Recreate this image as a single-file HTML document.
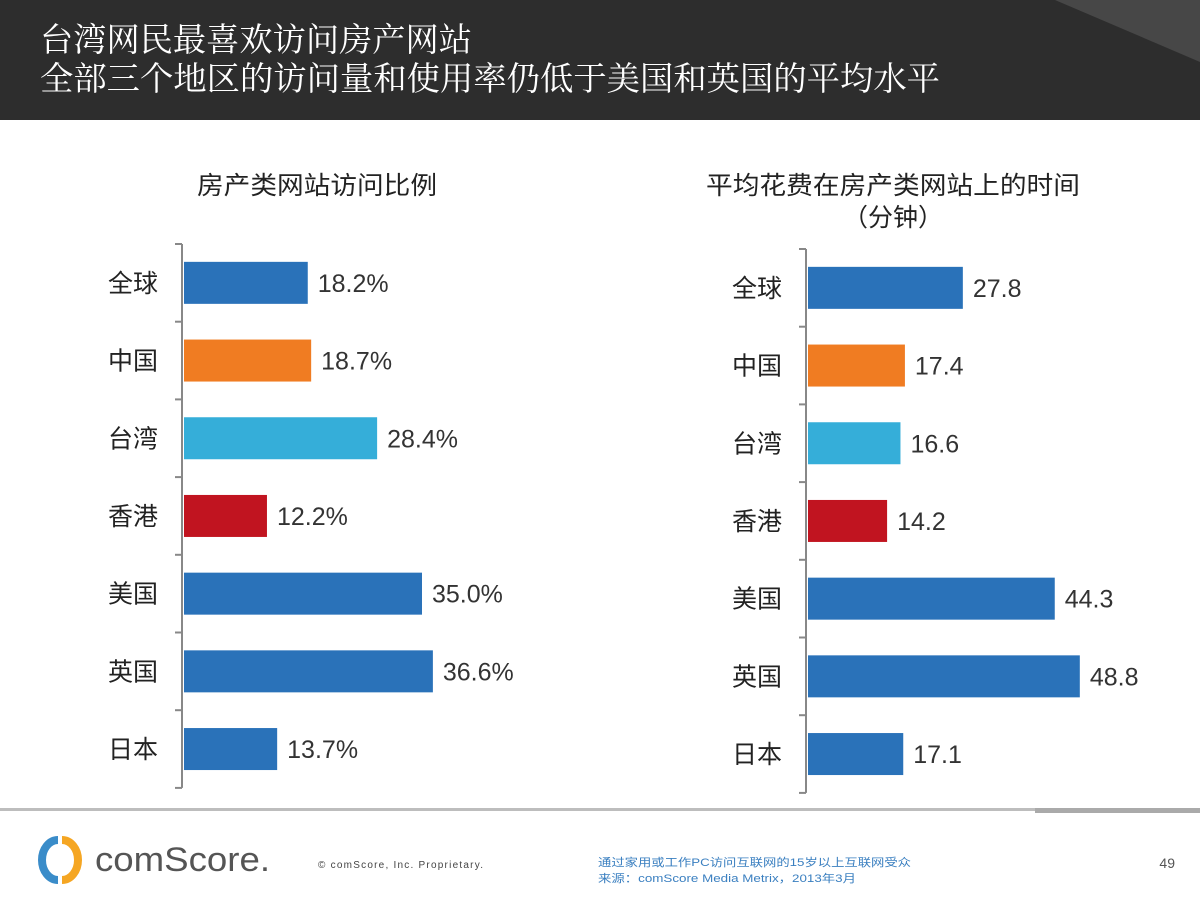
<!DOCTYPE html>
<html><head><meta charset="utf-8">
<style>
body{margin:0;width:1200px;height:900px;overflow:hidden;background:#fff;font-family:"Liberation Sans","Noto Sans CJK SC",sans-serif;}
svg text{font-family:"Liberation Sans","Noto Sans CJK SC",sans-serif;}
</style></head>
<body>
<svg width="1200" height="900" viewBox="0 0 1200 900">
  <rect x="0" y="0" width="1200" height="120" fill="#2d2d2d"/>
  <polygon points="1055,0 1200,0 1200,62" fill="#474747"/>
  <text x="40" y="51" fill="#fff" font-size="33" textLength="432" lengthAdjust="spacingAndGlyphs" style="font-family:'Liberation Serif','Noto Serif CJK SC',serif">台湾网民最喜欢访问房产网站</text>
  <text x="40" y="90" fill="#fff" font-size="33" textLength="900" lengthAdjust="spacingAndGlyphs" style="font-family:'Liberation Serif','Noto Serif CJK SC',serif">全部三个地区的访问量和使用率仍低于美国和英国的平均水平</text>

  <text x="317" y="194" text-anchor="middle" font-size="25" textLength="240" lengthAdjust="spacingAndGlyphs" fill="#222">房产类网站访问比例</text>
  <text x="893" y="194" text-anchor="middle" font-size="25" textLength="374" lengthAdjust="spacingAndGlyphs" fill="#222">平均花费在房产类网站上的时间</text>
  <text x="893" y="226" text-anchor="middle" font-size="25" fill="#222">（分钟）</text>

  <g id="left"></g>
  <g id="right"></g>

  <rect x="0" y="808" width="1200" height="3" fill="#bdbdbd"/>
  <rect x="1035" y="808" width="165" height="5" fill="#aaa"/>
  <g>
    <path d="M58 840 A16 20 0 0 0 58 880" stroke="#3a8cc9" stroke-width="8" fill="none"/>
    <path d="M62 840 A16 20 0 0 1 62 880" stroke="#f5a623" stroke-width="8" fill="none"/>
    <text x="95" y="871" font-size="34" fill="#555" textLength="175" lengthAdjust="spacingAndGlyphs">comScore.</text>
  </g>
  <text x="318" y="868" font-size="10" fill="#444" textLength="165" lengthAdjust="spacing">© comScore, Inc.    Proprietary.</text>
  <text x="598" y="866" font-size="11" fill="#3a7fc0" textLength="313" lengthAdjust="spacingAndGlyphs">通过家用或工作PC访问互联网的15岁以上互联网受众</text>
  <text x="598" y="882" font-size="11" fill="#3a7fc0" textLength="258" lengthAdjust="spacingAndGlyphs">来源：comScore Media Metrix，2013年3月</text>
  <text x="1175" y="868" text-anchor="end" font-size="14" fill="#555">49</text>
</svg>
<script>
const categories=["全球","中国","台湾","香港","美国","英国","日本"];
const colors=["#2a72b9","#f07c22","#35aed9","#c11420","#2a72b9","#2a72b9","#2a72b9"];
const visitShare=[18.2,18.7,28.4,12.2,35.0,36.6,13.7];
const visitLabels=["18.2%","18.7%","28.4%","12.2%","35.0%","36.6%","13.7%"];
const minutes=[27.8,17.4,16.6,14.2,44.3,48.8,17.1];
const minuteLabels=["27.8","17.4","16.6","14.2","44.3","48.8","17.1"];
const NS="http://www.w3.org/2000/svg";
function mk(tag,attrs,parent){const e=document.createElementNS(NS,tag);for(const k in attrs)e.setAttribute(k,attrs[k]);parent.appendChild(e);return e;}
function drawChart(g,axisX,top,band,scale,values,labels,prefix){
  const n=categories.length;
  const x=v=>axisX+2+v*scale;
  const axis=mk("line",{x1:axisX,y1:top,x2:axisX,y2:top+band*n,stroke:"#888","stroke-width":2},g);
  
  
  for(let i=0;i<=n;i++){
    const t=mk("line",{x1:axisX-7,y1:top+band*i,x2:axisX,y2:top+band*i,stroke:"#888","stroke-width":2},g);
    
    
  }
  values.forEach((v,i)=>{
    const cy=top+band*i+band/2;
    const r=mk("rect",{x:axisX+2,y:cy-21,width:x(v)-axisX-2,height:42,fill:colors[i]},g);
    
    
    const l=mk("text",{x:x(v)+10,y:cy+9,"font-size":25,fill:"#333"},g);
    l.textContent=labels[i];
    
    
    const c=mk("text",{x:axisX-24,y:cy+9,"font-size":25,fill:"#222","text-anchor":"end"},g);
    c.textContent=categories[i];
    
    
  });
}
drawChart(document.getElementById("left"),182,244,77.7,6.8,visitShare,visitLabels,"left");
drawChart(document.getElementById("right"),806,249,77.7,5.57,minutes,minuteLabels,"right");
</script>
</body></html>
